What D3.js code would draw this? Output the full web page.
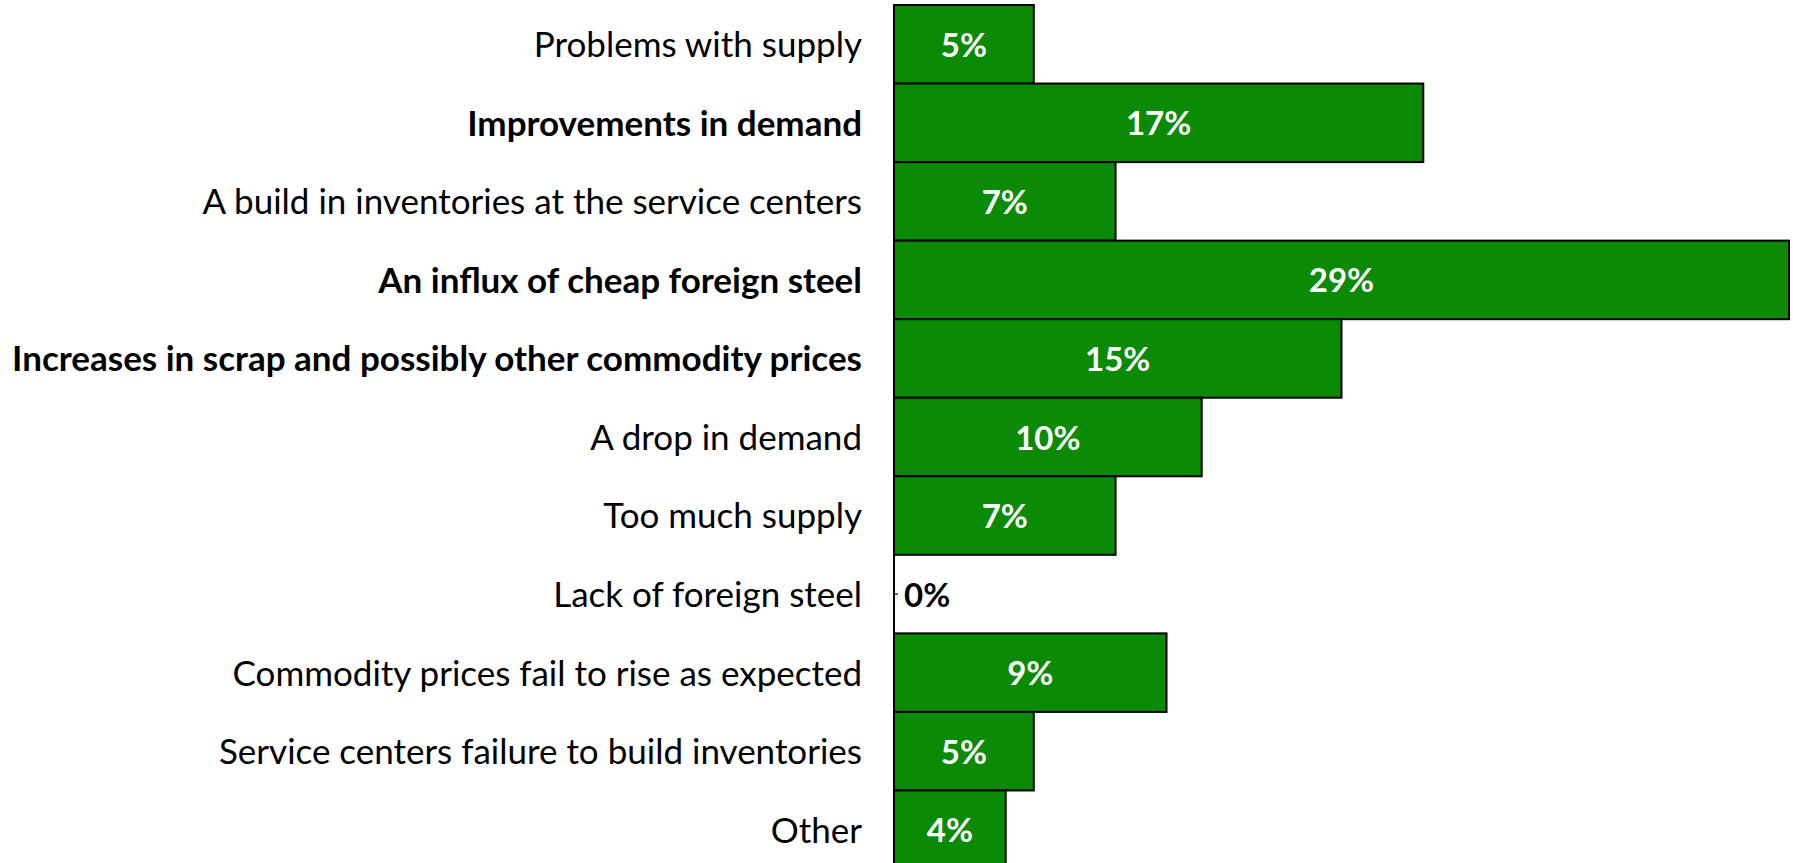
<!DOCTYPE html>
<html>
<head>
<meta charset="utf-8">
<script src="https://cdn.jsdelivr.net/npm/d3@7"></script>
<style>
  body { margin: 0; background: #fff; }
  svg { display: block; }
  .cat { font-family: Lato, "Open Sans", sans-serif; font-size: 35px; fill: #000; }
  .val { font-family: Lato, "Open Sans", sans-serif; font-size: 33px; font-weight: bold; }
</style>
</head>
<body>
<div id="chart"></div>
<script>
// categories, top to bottom
const categories = [
  "Problems with supply",
  "Improvements in demand",
  "A build in inventories at the service centers",
  "An influx of cheap foreign steel",
  "Increases in scrap and possibly other commodity prices",
  "A drop in demand",
  "Too much supply",
  "Lack of foreign steel",
  "Commodity prices fail to rise as expected",
  "Service centers failure to build inventories",
  "Other"
];

// which categories are printed in bold
const boldCategories = [
  "Improvements in demand",
  "An influx of cheap foreign steel",
  "Increases in scrap and possibly other commodity prices"
];

// bar lengths (percent)
const values = [4.53, 17.15, 7.18, 29.0, 14.5, 9.97, 7.18, 0, 8.83, 4.53, 3.62];

// labels shown on the bars
const valueLabels = ["5%", "17%", "7%", "29%", "15%", "10%", "7%", "0%", "9%", "5%", "4%"];

const data = categories.map((c, i) => ({
  category: c,
  value: values[i],
  label: valueLabels[i],
  bold: boldCategories.includes(c)
}));

const width = 1793;
const height = 863;
const margin = { top: 5, right: 4, bottom: -6, left: 894 };

const svg = d3.select("#chart")
  .append("svg")
  .attr("width", width)
  .attr("height", height);

const x = d3.scaleLinear()
  .domain([0, d3.max(values)])
  .range([margin.left, width - margin.right]);

const y = d3.scaleBand()
  .domain(categories)
  .range([margin.top, height - margin.bottom])
  .padding(0);

// bars
svg.selectAll(".bar")
  .data(data.filter((d) => d.value > 0))
  .enter()
  .append("rect")
  .attr("class", "bar")
  .attr("x", x(0))
  .attr("y", (d) => y(d.category))
  .attr("width", (d) => x(d.value) - x(0))
  .attr("height", y.bandwidth())
  .style("fill", "#0a8a05")
  .style("stroke", "#000")
  .style("stroke-width", "2px");

// small stub for zero bars
svg.selectAll(".stub")
  .data(data.filter((d) => d.value === 0))
  .enter()
  .append("line")
  .attr("x1", x(0))
  .attr("x2", x(0) + 4)
  .attr("y1", (d) => y(d.category) + y.bandwidth() / 2)
  .attr("y2", (d) => y(d.category) + y.bandwidth() / 2)
  .style("stroke", "#333")
  .style("stroke-width", "1.5px");

// category axis
const axis = svg.append("g")
  .attr("transform", "translate(" + x(0) + ",0)")
  .call(d3.axisLeft(y).tickSize(0).tickPadding(32));

axis.select(".domain")
  .attr("d", "M0," + margin.top + "V" + height)
  .style("stroke", "#000")
  .style("stroke-width", "2px");

axis.selectAll("text")
  .attr("class", "cat")
  .attr("font-family", null)
  .attr("font-size", null)
  .attr("fill", null)
  .attr("dy", "0.37em")
  .style("font-weight", (d) => boldCategories.includes(d) ? "bold" : "normal");

// value labels
svg.selectAll(".val")
  .data(data)
  .enter()
  .append("text")
  .attr("class", "val")
  .attr("x", (d) => d.value > 0 ? (x(0) + x(d.value)) / 2 : x(0) + 10)
  .attr("y", (d) => y(d.category) + y.bandwidth() / 2)
  .attr("dy", "0.38em")
  .attr("text-anchor", (d) => d.value > 0 ? "middle" : "start")
  .style("fill", (d) => d.value > 0 ? "#fff" : "#000")
  .text((d) => d.label);
</script>
</body>
</html>
